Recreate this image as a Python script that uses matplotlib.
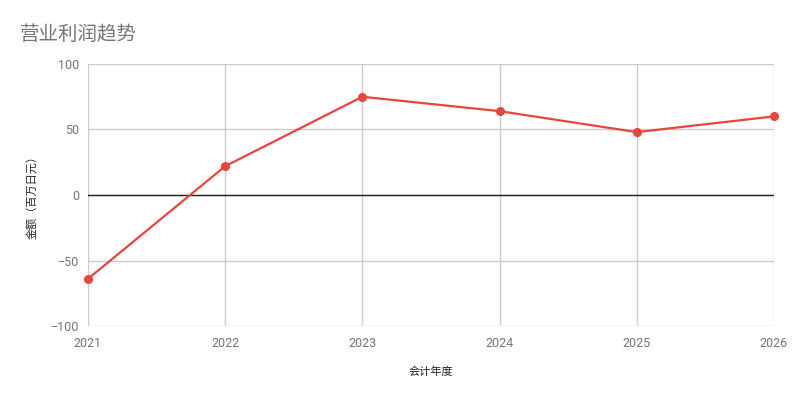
import matplotlib
matplotlib.use('Agg')
from matplotlib import pyplot as plt

years = [2021, 2022, 2023, 2024, 2025, 2026]
profit = [-64, 22, 75, 64, 48, 60]
y_ticks = [-100, -50, 0, 50, 100]

plt.rcParams['font.family'] = ['Roboto', 'Noto Sans CJK SC', 'DejaVu Sans']

fig = plt.figure(figsize=(8, 4), dpi=100)
ax = fig.add_axes([0.11, 0.185, 0.8575, 0.655])

ax.plot(years, profit, color='#e8453c', linewidth=1.6, marker='o', markersize=5.5,
        zorder=3, clip_on=False)
ax.axhline(0, color='#222222', linewidth=1, zorder=2)

ax.set_xlim(years[0], years[-1])
ax.set_ylim(-100, 100)
ax.set_xticks(years)
ax.set_yticks(y_ticks)
ax.grid(True, color='#cccccc', linewidth=1)
for s in ax.spines.values():
    s.set_visible(False)
ax.tick_params(length=0, labelsize=9, labelcolor='#757575', pad=6)
ax.tick_params(axis='x', pad=8)

ax.set_xlabel('会计年度', family=['Noto Sans CJK SC', 'DejaVu Sans'], fontsize=8, color='#222222', labelpad=12)
ax.set_ylabel('金额（百万日元）', family=['Noto Sans CJK SC', 'DejaVu Sans'], fontsize=8, color='#222222', labelpad=10)

fig.text(0.025, 0.9, '营业利润趋势', family=['Noto Sans CJK SC', 'DejaVu Sans'], fontsize=14, color='#757575')

fig.savefig('out.png')
